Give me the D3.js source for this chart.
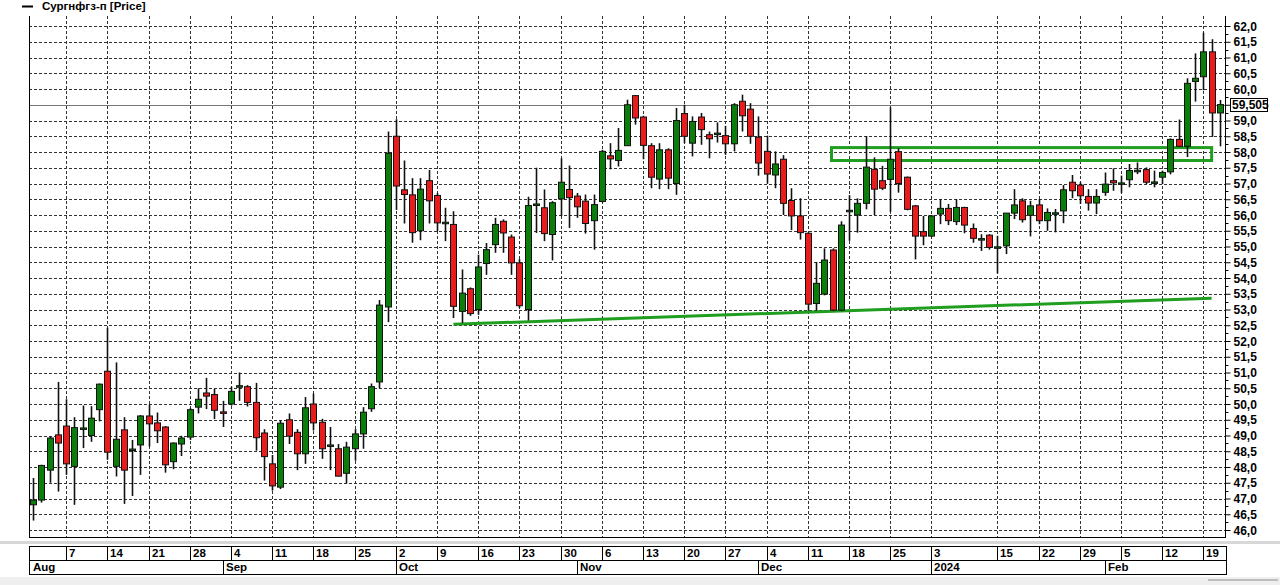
<!DOCTYPE html>
<html><head><meta charset="utf-8">
<script src="https://cdn.jsdelivr.net/npm/d3@7"></script>
<style>
body{margin:0;background:#fff}
svg{display:block}
text{font-family:"Liberation Sans",Arial,sans-serif;font-weight:bold;font-size:11.5px;fill:#000}
</style>
</head><body>
<svg id="c" width="1280" height="585"></svg>
<script>
// ---------------- DATA ----------------
const seriesName = "Сургнфгз-п [Price]";
const firstDay = "2023-08-01", lastDay = "2024-02-21";
const holidays = ["2024-01-01", "2024-01-02"];

const open  = [46.8,46.95,47.9,49.02,49.3,48.02,49.22,49.0,49.82,51.04,48.02,49.18,48.55,48.7,49.62,49.4,49.27,48.17,48.73,48.95,49.9,50.35,50.3,49.75,50.0,50.55,50.55,50.05,49.08,48.1,47.36,49.5,49.1,48.42,50.0,49.42,48.68,48.58,47.8,48.58,49.05,49.85,50.7,53.08,58.5,56.8,56.64,55.5,57.09,56.62,55.75,55.7,52.94,53.66,53.0,54.46,55.06,55.8,55.3,54.48,53.0,56.33,56.23,55.38,56.51,56.81,56.6,56.44,55.82,56.43,57.88,57.73,58.2,59.79,59.11,58.2,57.14,58.07,57.0,59.22,58.28,59.11,58.55,58.58,58.52,58.26,59.61,59.36,58.47,58.02,57.27,57.77,56.46,55.97,55.42,53.19,53.49,54.89,52.98,56.13,56.0,56.37,57.45,57.09,57.13,58.01,57.2,56.29,55.47,55.33,56.03,56.21,55.79,56.24,55.57,55.23,55.36,54.97,55.02,56.06,56.45,55.99,56.32,55.82,56.05,56.13,57.04,56.95,56.59,56.38,56.72,57.09,57.0,57.12,57.4,57.44,57.03,57.2,57.37,58.4,58.18,60.24,60.39,61.18,59.24];
const high  = [47.65,48.07,48.97,50.7,50.15,49.58,49.95,49.93,50.65,52.42,51.32,49.58,48.86,49.65,49.98,49.73,49.3,48.78,48.99,49.87,50.5,50.83,50.48,50.1,50.55,51.0,50.6,50.67,49.2,48.38,49.48,49.7,49.2,50.22,50.33,49.53,49.27,48.73,48.8,49.2,49.9,50.65,53.3,58.65,59.04,57.73,57.17,57.17,57.43,56.7,56.23,56.12,54.27,53.7,54.74,55.11,55.91,55.86,55.38,54.6,56.58,57.5,56.81,56.44,57.8,57.57,56.7,56.65,56.65,58.07,58.28,58.76,59.66,59.8,59.15,58.28,58.28,58.12,59.4,59.5,59.13,59.24,58.65,58.94,58.83,59.55,59.82,59.55,59.13,58.52,58.02,57.9,56.85,56.53,55.45,54.51,54.94,54.94,55.8,56.63,56.53,58.51,57.83,57.56,59.42,58.12,57.22,56.32,55.97,56.0,56.5,56.35,56.5,56.26,55.73,55.39,55.39,55.34,56.06,56.82,56.53,56.45,56.51,56.21,56.19,56.95,57.27,57.04,56.82,56.82,57.35,57.48,57.25,57.62,57.67,57.51,57.41,57.41,58.43,59.03,60.34,61.13,61.79,61.58,59.65];
const low   = [46.3,46.87,47.5,47.22,47.75,46.8,48.6,48.8,49.45,48.23,47.7,46.83,47.08,47.75,48.65,48.76,47.82,47.93,48.35,48.86,49.7,49.84,49.52,49.27,49.95,50.1,49.92,48.52,47.57,47.25,47.3,48.73,47.9,48.1,49.16,48.26,47.9,47.7,47.48,48.2,48.58,49.75,50.5,52.6,56.16,55.73,55.12,55.2,55.73,55.49,55.17,52.73,52.57,52.8,52.83,54.1,54.8,54.8,54.1,53.05,52.65,55.43,55.17,54.56,55.96,55.59,55.91,55.41,54.9,56.4,57.45,57.54,58.2,58.87,57.77,56.85,56.82,56.82,56.64,58.28,57.86,58.23,57.8,58.3,57.91,58.02,58.65,58.26,57.25,57.0,56.85,56.0,55.52,55.22,52.96,52.96,53.45,52.95,52.95,55.18,55.44,56.18,56.0,56.79,56.1,56.71,56.15,54.59,55.04,55.3,55.71,55.68,55.68,55.42,55.12,54.86,54.9,54.15,54.76,55.87,55.76,55.32,55.71,55.5,55.45,55.74,56.53,56.35,56.14,56.03,56.61,56.77,56.7,56.88,57.3,56.98,56.88,56.98,57.29,58.16,57.84,59.6,59.96,58.48,58.18];
const close = [46.95,48.05,48.92,48.76,48.1,49.25,49.24,49.55,50.63,48.47,48.88,47.9,48.57,49.62,49.37,49.15,48.07,48.76,48.92,49.82,50.15,50.25,49.8,49.73,50.4,50.58,50.05,48.93,48.33,47.4,49.39,48.98,48.42,49.88,49.4,48.58,48.7,47.71,48.63,49.05,49.74,50.55,53.14,57.96,56.92,56.65,55.44,56.82,56.45,55.75,55.77,53.1,53.52,52.87,54.35,54.9,55.7,55.43,54.48,53.12,56.3,56.35,55.41,56.39,57.04,56.55,56.26,55.73,56.33,58.02,57.78,58.05,59.5,59.08,58.21,57.2,58.07,57.17,59.0,58.5,58.97,58.71,58.42,58.6,58.26,59.5,59.15,58.5,57.65,57.3,57.62,56.37,55.97,55.44,53.17,53.83,54.57,52.98,55.68,56.15,56.37,57.52,56.82,56.85,57.77,57.0,56.18,55.33,55.33,55.97,56.21,55.82,56.24,55.68,55.26,55.25,54.97,54.99,56.06,56.32,55.85,56.29,55.82,56.08,56.07,56.8,56.77,56.61,56.38,56.59,56.98,57.02,57.02,57.41,57.42,57.04,57.05,57.35,58.4,58.18,60.18,60.34,61.18,59.24,59.505];

const priceDomain = [46, 62];
const priceTickStep = 0.5;
const lastPrice = 59.505;

const weekTickDates  = ["2023-08-07","2023-08-14","2023-08-21","2023-08-28","2023-09-04","2023-09-11","2023-09-18","2023-09-25","2023-10-02","2023-10-09","2023-10-16","2023-10-23","2023-10-30","2023-11-06","2023-11-13","2023-11-20","2023-11-27","2023-12-04","2023-12-11","2023-12-18","2023-12-25","2024-01-03","2024-01-15","2024-01-22","2024-01-29","2024-02-05","2024-02-12","2024-02-19"];
const weekTickLabels = ["7","14","21","28","4","11","18","25","2","9","16","23","30","6","13","20","27","4","11","18","25","3","15","22","29","5","12","19"];
const monthDates  = ["2023-08-01","2023-09-01","2023-10-02","2023-11-01","2023-12-01","2024-01-03","2024-02-01"];
const monthLabels = ["Aug","Sep","Oct","Nov","Dec","2024","Feb"];

// drawn annotations (date, price)
const supportStart = ["2023-10-11", 52.53];
const supportEnd   = ["2024-02-20", 53.36];
const zoneStart = "2023-12-14", zoneEnd = "2024-02-20";
const zoneTop = 58.14, zoneBottom = 57.73;

// ---------------- BUILD ----------------
const fmt = d3.timeFormat("%Y-%m-%d");
const dates = d3.timeDay.range(new Date(firstDay+"T00:00"), d3.timeDay.offset(new Date(lastDay+"T00:00"),1))
  .filter(d => d.getDay()!==0 && d.getDay()!==6)
  .map(fmt).filter(s => !holidays.includes(s));
const candles = dates.map((d,i)=>({d, o:open[i], h:high[i], l:low[i], c:close[i]}));

const W=1280,H=585;
const plot = {l:29, r:1225, t:16, b:537};
const svg = d3.select("#c");
svg.append("rect").attr("width",W).attr("height",H).attr("fill","#fff");

const x = d3.scaleBand().domain(dates).range([plot.l, 1224]).padding(0);
const cx = d => x(d) + x.bandwidth()/2;
const y = d3.scaleLinear().domain(priceDomain).range([530, 26]);

// grid
const gGrid = svg.append("g");
const yTickVals = d3.range(priceDomain[0], priceDomain[1]+0.001, priceTickStep);
gGrid.selectAll("line.h").data(yTickVals).join("line")
  .attr("x1",plot.l).attr("x2",plot.r)
  .attr("y1",d=>Math.round(y(d))+0.5).attr("y2",d=>Math.round(y(d))+0.5)
  .attr("stroke","#333").attr("stroke-width",1).attr("stroke-dasharray","3,2");
gGrid.selectAll("line.v").data(weekTickDates).join("line")
  .attr("x1",d=>Math.round(cx(d))+0.5).attr("x2",d=>Math.round(cx(d))+0.5)
  .attr("y1",plot.t).attr("y2",plot.b)
  .attr("stroke","#333").attr("stroke-width",1).attr("stroke-dasharray","3,2");

// last price line
svg.append("line").attr("x1",plot.l).attr("x2",plot.r)
  .attr("y1",Math.round(y(lastPrice))+0.5).attr("y2",Math.round(y(lastPrice))+0.5)
  .attr("stroke","#777").attr("stroke-width",1);

// support line & zone
const green="#1f9e1f";
svg.append("line")
  .attr("x1",cx(supportStart[0])).attr("y1",y(supportStart[1]))
  .attr("x2",cx(supportEnd[0])).attr("y2",y(supportEnd[1]))
  .attr("stroke",green).attr("stroke-width",3);
svg.append("rect")
  .attr("x",cx(zoneStart)-1).attr("y",y(zoneTop))
  .attr("width",cx(zoneEnd)-cx(zoneStart)+1).attr("height",y(zoneBottom)-y(zoneTop))
  .attr("fill","none").attr("stroke",green).attr("stroke-width",3);

// candles
const gC = svg.append("g");
gC.selectAll("line.w").data(candles).join("line")
  .attr("x1",d=>Math.round(cx(d.d))+0.5).attr("x2",d=>Math.round(cx(d.d))+0.5)
  .attr("y1",d=>y(d.h)).attr("y2",d=>y(d.l))
  .attr("stroke","#111").attr("stroke-width",1.6);
gC.selectAll("rect.b").data(candles).join("rect")
  .attr("x",d=>Math.round(cx(d.d))-2.5).attr("width",6)
  .attr("y",d=>y(Math.max(d.o,d.c)))
  .attr("height",d=>Math.max(1.5, Math.abs(y(d.o)-y(d.c))))
  .attr("fill",d=>d.c>=d.o?"#0a7d0a":"#e81c1c")
  .attr("stroke","#111").attr("stroke-width",1);

// borders
svg.append("line").attr("x1",plot.l+0.5).attr("x2",plot.l+0.5).attr("y1",plot.t).attr("y2",plot.b).attr("stroke","#000");
svg.append("line").attr("x1",plot.l).attr("x2",plot.r+1).attr("y1",plot.b+0.5).attr("y2",plot.b+0.5).attr("stroke","#000");

// right axis (the 59,5 label is covered by the last-price label, as in the source)
const yAxis = d3.axisRight(y).tickValues(yTickVals).tickSize(5).tickPadding(3)
  .tickFormat(d=> Math.abs(d-lastPrice) < 0.2 ? "" : d3.format(".1f")(d).replace(".",","));
const ga = svg.append("g").attr("transform",`translate(${plot.r+0.5},0)`).call(yAxis);
ga.select(".domain").attr("stroke","#000").attr("d",`M0,${plot.t}V${plot.b}`);
ga.selectAll("text").attr("dy","0.35em").style("font-size","12px");
const minor = d3.range(priceDomain[0]+0.25, priceDomain[1], 0.5);
ga.selectAll("line.mn").data(minor).join("line").attr("class","mn")
  .attr("x1",0).attr("x2",3).attr("y1",d=>Math.round(y(d))+0.5).attr("y2",d=>Math.round(y(d))+0.5).attr("stroke","#000");

// last price label
const lp = svg.append("g");
lp.append("rect").attr("x",1230.5).attr("y",Math.round(y(lastPrice))-6.5).attr("width",37).attr("height",13)
  .attr("fill","#fff").attr("stroke","#000");
lp.append("text").attr("x",1232).attr("y",y(lastPrice)).attr("dy","0.35em").style("font-size","12px")
  .text(d3.format(".3f")(lastPrice).replace(".",","));

// separator band
svg.append("rect").attr("x",0).attr("y",541).attr("width",W).attr("height",3).attr("fill","#d8d8d8");

// date strip
const strip = {t:546, m:560, b:574};
const gs = svg.append("g");
gs.append("rect").attr("x",plot.l+0.5).attr("y",strip.t+0.5).attr("width",1226-plot.l).attr("height",strip.b-strip.t)
  .attr("fill","#fff").attr("stroke","#000");
gs.append("line").attr("x1",plot.l).attr("x2",1227).attr("y1",strip.m+0.5).attr("y2",strip.m+0.5).attr("stroke","#000");
gs.selectAll("line.wk").data(weekTickDates).join("line")
  .attr("x1",d=>Math.round(cx(d))+0.5).attr("x2",d=>Math.round(cx(d))+0.5)
  .attr("y1",strip.t).attr("y2",strip.m).attr("stroke","#000");
gs.selectAll("text.wk").data(weekTickDates).join("text")
  .attr("x",d=>Math.round(cx(d))+3).attr("y",strip.m-3).text((d,i)=>weekTickLabels[i]);
gs.selectAll("line.mo").data(monthDates.slice(1)).join("line")
  .attr("x1",d=>Math.round(cx(d))+0.5).attr("x2",d=>Math.round(cx(d))+0.5)
  .attr("y1",strip.m).attr("y2",strip.b).attr("stroke","#000");
gs.selectAll("text.mo").data(monthDates).join("text")
  .attr("x",(d,i)=> i===0 ? plot.l+4 : Math.round(cx(d))+3).attr("y",strip.b-3).text((d,i)=>monthLabels[i]);

// bottom grey band + scrollbar
svg.append("rect").attr("x",0).attr("y",577).attr("width",W).attr("height",8).attr("fill","#efefef");
svg.append("rect").attr("x",1208).attr("y",579).attr("width",70).attr("height",2).attr("fill","#bdbdbd");

// legend
svg.append("line").attr("x1",22).attr("x2",33).attr("y1",6.5).attr("y2",6.5).attr("stroke","#000").attr("stroke-width",2);
svg.append("text").attr("x",42).attr("y",10).text(seriesName);
</script>
</body></html>
